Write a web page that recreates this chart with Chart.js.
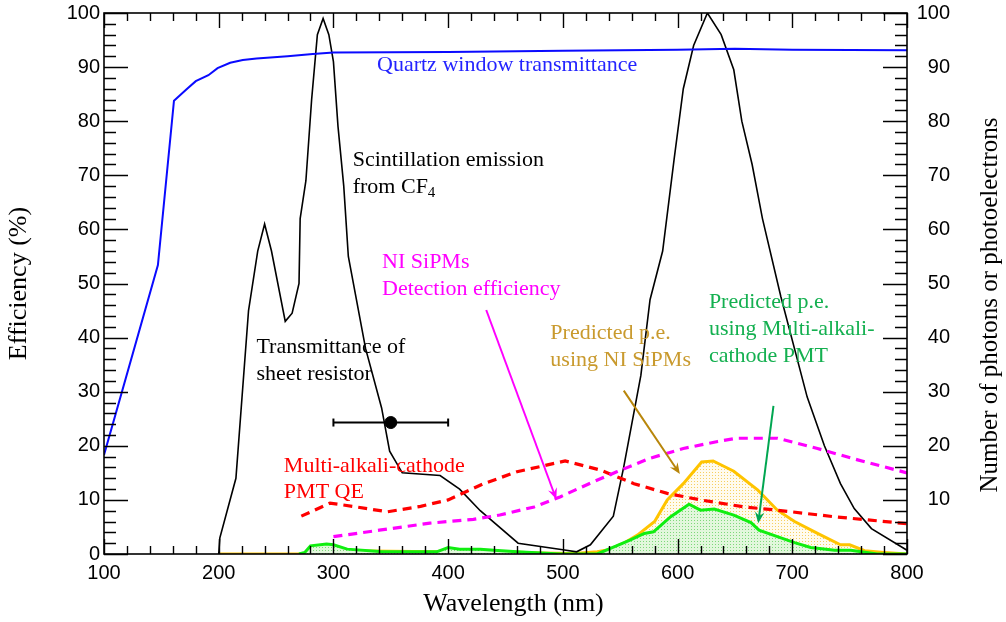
<!DOCTYPE html>
<html><head><meta charset="utf-8">
<script src="https://cdn.jsdelivr.net/npm/chart.js@4.4.1/dist/chart.umd.min.js"></script>
<style>html,body{margin:0;padding:0;background:#fff;}canvas{display:block;}</style>
</head><body>
<canvas id="c" width="1006" height="622"></canvas>
<script>
// ---- data (wavelength in nm, values in % / counts) ----
const quartzWl  = [100,147,161,172,180,191,199,210,221,233,260,282,300,400,500,600,650,700,800];
const quartzVal = [18.3,53.4,83.8,85.9,87.4,88.5,89.8,90.8,91.3,91.6,92.0,92.4,92.7,92.8,93.0,93.2,93.4,93.2,93.1];

const scintWl  = [200,201,215,226,234,240,246,258,264,270,271,276,281,286,291,296,300,304,309,313,328,342,349,360,393,410,428,461,500,512,524,544,553,568,576,587,597,605,614,626,638,649,656,665,674,690,713,728,742,754,769,800];
const scintVal = [0,3,14,45,56,61,56,43,44.5,50,62,69,84,96,99,96,91,79,68,55,38,27,19,15,14.5,12,8,2,0.8,0.4,1.7,7,16,33,47,56,73,86,94,100,96,89.5,80,72,62,47.6,29,20,13,8.4,4.7,0.7];

const pmtQeWl  = [272,297,317,347,376,400,431,460,502,533,562,591,620,658,687,736,766,800];
const pmtQeVal = [7,9.4,8.8,7.8,8.8,10,13,15.2,17.2,15.5,13,11.2,10,8.7,8.1,6.9,6.3,5.6];

const sipmWl  = [300,340,384,422,445,475,498,524,547,576,605,635,652,687,722,757,800];
const sipmVal = [3.2,4.4,5.7,6.4,7.2,8.7,10.6,13.1,15.2,17.7,19.5,20.8,21.4,21.4,19.5,17.4,15];

const peSipmWl  = [200,290,300,310,350,390,400,420,450,480,510,530,540,553,565,580,591,605,621,631,649,670,687,702,722,742,750,763,780,800];
const peSipmVal = [0,0,1.0,0.6,0.5,0.4,0.8,0.6,0.4,0.2,0.1,0.4,0.8,2,3.5,6,10,13,17,17.2,15.3,11.8,8.1,6,3.8,1.7,1.7,0.6,0.3,0];

const pePmtWl  = [270,275,280,294,300,312,340,390,400,410,428,440,460,498,530,541,559,571,579,594,610,620,632,649,664,671,687,702,716,737,751,774,800];
const pePmtVal = [0,0.3,1.5,1.85,1.7,0.9,0.45,0.4,1.2,0.9,0.9,0.7,0.4,0,0,1,2.6,3.8,4.1,6.9,9.2,8.1,8.3,7.2,5.8,4.4,3.2,2.1,1.2,0.7,0.7,0,0];

const resistorWl  = [300,350,400];   // error bar ends and centre
const resistorVal = [24.3,24.3,24.3];

const xTickValues = [100,200,300,400,500,600,700,800];
const yTickValues = [0,10,20,30,40,50,60,70,80,90,100];

// ---- annotations (data coordinates) ----
const SERIF = "'Liberation Serif','Times New Roman',serif";
const SANS = "'Liberation Sans',Arial,sans-serif";
const notes = [
  {t:'Quartz window transmittance', x:338, y:89.3, c:'#2424ff'},
  {t:'Scintillation emission', x:316.8, y:71.7, c:'#000'},
  {t:'from CF', sub:'4', x:316.8, y:66.7, c:'#000'},
  {t:'NI SiPMs', x:342.4, y:52.9, c:'#ff00ff'},
  {t:'Detection efficiency', x:342.4, y:47.9, c:'#ff00ff'},
  {t:'Transmittance of', x:232.9, y:37.2, c:'#000'},
  {t:'sheet resistor', x:232.9, y:32.2, c:'#000'},
  {t:'Multi-alkali-cathode', x:256.8, y:15.2, c:'#ff0000'},
  {t:'PMT QE', x:256.8, y:10.4, c:'#ff0000'},
  {t:'Predicted p.e.', x:489.1, y:39.8, c:'#c99a2e'},
  {t:'using NI SiPMs', x:489.1, y:34.8, c:'#c99a2e'},
  {t:'Predicted p.e.', x:627.3, y:45.5, c:'#14b050'},
  {t:'using Multi-alkali-', x:627.3, y:40.5, c:'#14b050'},
  {t:'cathode PMT', x:627.3, y:35.5, c:'#14b050'}
];
const arrows = [
  {x0:433.2,y0:45.1,x1:494.3,y1:10.1,c:'#ff00ff'},
  {x0:553.1,y0:30.2,x1:602,y1:14.8,c:'#b8860b'},
  {x0:683.6,y0:27.4,x1:670.3,y1:5.7,c:'#00a651'}
];

function pts(xs, ys){ return xs.map((x,i)=>({x:x, y:ys[i]})); }
function makePattern(base, dot){
  const c = document.createElement('canvas'); c.width = 3; c.height = 3;
  const g = c.getContext('2d');
  g.fillStyle = base; g.fillRect(0,0,3,3);
  g.fillStyle = dot; g.fillRect(1,1,1,1);
  return g.createPattern(c,'repeat');
}
function noPad(s){ s.paddingTop = 0; s.paddingBottom = 0; s.paddingLeft = 0; s.paddingRight = 0; }

const framePlugin = {
  id:'frame',
  afterDatasetsDraw(chart){
    const {ctx, chartArea:a, scales} = chart;
    const xs = scales.x, ys = scales.y;
    ctx.save();
    // annotation text
    notes.forEach(n=>{
      const px = xs.getPixelForValue(n.x), py = ys.getPixelForValue(n.y);
      ctx.fillStyle = n.c; ctx.font = '22px ' + SERIF;
      ctx.textAlign = 'left'; ctx.textBaseline = 'alphabetic';
      ctx.fillText(n.t, px, py);
      if (n.sub){
        const w = ctx.measureText(n.t).width;
        ctx.font = '15px ' + SERIF;
        ctx.fillText(n.sub, px + w, py + 4);
      }
    });
    // arrows
    arrows.forEach(ar=>{
      const x0 = xs.getPixelForValue(ar.x0), y0 = ys.getPixelForValue(ar.y0);
      const x1 = xs.getPixelForValue(ar.x1), y1 = ys.getPixelForValue(ar.y1);
      const ang = Math.atan2(y1-y0, x1-x0), L = 12, h = 0.4;
      ctx.strokeStyle = ar.c; ctx.fillStyle = ar.c; ctx.lineWidth = 2;
      ctx.beginPath(); ctx.moveTo(x0,y0); ctx.lineTo(x1 - 6*Math.cos(ang), y1 - 6*Math.sin(ang)); ctx.stroke();
      ctx.beginPath();
      ctx.moveTo(x1,y1);
      ctx.lineTo(x1 - L*Math.cos(ang-h), y1 - L*Math.sin(ang-h));
      ctx.lineTo(x1 - L*0.6*Math.cos(ang), y1 - L*0.6*Math.sin(ang));
      ctx.lineTo(x1 - L*Math.cos(ang+h), y1 - L*Math.sin(ang+h));
      ctx.closePath(); ctx.fill();
    });
    // frame
    ctx.strokeStyle = '#000'; ctx.lineWidth = 1.6;
    ctx.strokeRect(a.left, a.top, a.right - a.left, a.bottom - a.top);
    // ticks
    ctx.lineWidth = 1.4;
    ctx.beginPath();
    for (let v = xs.min; v <= xs.max + 0.01; v += 20){
      const p = Math.round(xs.getPixelForValue(v)) + 0.5;
      const L = (Math.round(v) % 100 === 0) ? 15 : 8;
      ctx.moveTo(p, a.bottom); ctx.lineTo(p, a.bottom - L);
      ctx.moveTo(p, a.top); ctx.lineTo(p, a.top + L);
    }
    for (let v = ys.min; v <= ys.max + 0.01; v += 2){
      const p = Math.round(ys.getPixelForValue(v)) + 0.5;
      const L = (Math.round(v) % 10 === 0) ? 24 : 12;
      ctx.moveTo(a.left, p); ctx.lineTo(a.left + L, p);
      ctx.moveTo(a.right, p); ctx.lineTo(a.right - L, p);
    }
    ctx.stroke();
    // x axis title
    ctx.fillStyle = '#000'; ctx.font = '26px ' + SERIF;
    ctx.textAlign = 'center'; ctx.textBaseline = 'middle';
    ctx.fillText('Wavelength (nm)', (a.left + a.right)/2 + 8, 604);
    // right axis title (reads bottom to top)
    ctx.save();
    ctx.translate(990, 305);
    ctx.rotate(-Math.PI/2);
    ctx.font = '25px ' + SERIF;
    ctx.fillText('Number of photons or photoelectrons', 0, 0);
    ctx.restore();
    ctx.restore();
  }
};

const ctx = document.getElementById('c').getContext('2d');
new Chart(ctx, {
  type:'line',
  data:{ datasets:[
    { label:'Transmittance of sheet resistor', data: pts(resistorWl, resistorVal), borderColor:'#000', backgroundColor:'#000', borderWidth:2,
      pointStyle:['line','circle','line'], rotation:[90,0,90], pointRadius:[4,6,4], pointBorderWidth:[2,1,2], pointBackgroundColor:'#000', pointBorderColor:'#000', yAxisID:'y' },
    { label:'NI SiPMs Detection efficiency', data: pts(sipmWl, sipmVal), borderColor:'#ff00ff', borderWidth:3.2, borderDash:[9,6], pointRadius:0, yAxisID:'y' },
    { label:'Multi-alkali-cathode PMT QE', data: pts(pmtQeWl, pmtQeVal), borderColor:'#ff0000', borderWidth:3.2, borderDash:[9,6], pointRadius:0, yAxisID:'y' },
    { label:'Quartz window transmittance', data: pts(quartzWl, quartzVal), borderColor:'#0a0aff', borderWidth:2, pointRadius:0, yAxisID:'y' },
    { label:'Scintillation emission from CF4', data: pts(scintWl, scintVal), borderColor:'#000', borderWidth:1.6, pointRadius:0, yAxisID:'y2' },
    { label:'Predicted p.e. using Multi-alkali-cathode PMT', data: pts(pePmtWl, pePmtVal), borderColor:'#10ee10', borderWidth:3, pointRadius:0, fill:'origin',
      backgroundColor: makePattern('#e2f7dc', '#7ed87a'), yAxisID:'y2' },
    { label:'Predicted p.e. using NI SiPMs', data: pts(peSipmWl, peSipmVal), borderColor:'#ffc400', borderWidth:3, pointRadius:0, fill:'origin',
      backgroundColor: makePattern('#fffbee', '#f5cf60'), yAxisID:'y2' }
  ]},
  options:{
    responsive:false, animation:false, devicePixelRatio:1,
    layout:{ padding:{ top:13, left:0, right:56, bottom:0 } },
    elements:{ line:{ tension:0 } },
    plugins:{ legend:{ display:false }, tooltip:{ enabled:false } },
    scales:{
      x:{ type:'linear', min:100, max:800,
          afterBuildTicks: s => { s.ticks = xTickValues.map(v=>({value:v})); },
          ticks:{ font:{ family:SANS, size:20 }, color:'#000', padding:7, maxRotation:0, autoSkip:false },
          grid:{ display:false, drawTicks:false }, border:{ display:false },
          title:{ display:false },
          afterFit: s => { s.height = 68; } },
      y:{ position:'left', min:0, max:100,
          afterBuildTicks: s => { s.ticks = yTickValues.map(v=>({value:v})); },
          ticks:{ font:{ family:SANS, size:20 }, color:'#000', padding:4 },
          grid:{ display:false, drawTicks:false }, border:{ display:false },
          title:{ display:true, text:'Efficiency (%)', font:{ family:SERIF, size:26 }, color:'#000', padding:{ top:4, bottom:0 } },
          afterFit: s => { s.width = 104; noPad(s); } },
      y2:{ position:'right', min:0, max:100,
          afterBuildTicks: s => { s.ticks = yTickValues.map(v=>({value:v})); },
          ticks:{ font:{ family:SANS, size:20 }, color:'#000', padding:0, crossAlign:'far',
                  callback: v => v === 0 ? '' : String(v) },
          grid:{ display:false, drawTicks:false }, border:{ display:false },
          afterFit: s => { s.width = 43; noPad(s); } }
    }
  },
  plugins:[framePlugin]
});
</script>
</body></html>
